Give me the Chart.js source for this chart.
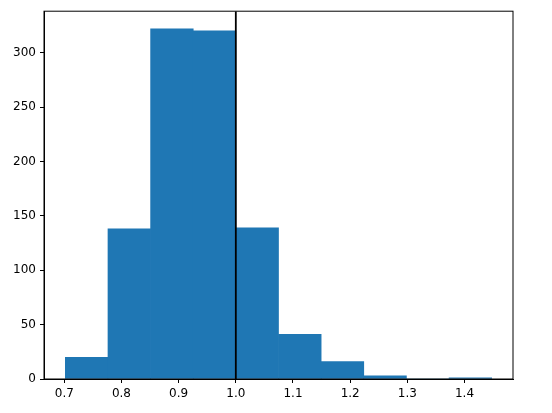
<!DOCTYPE html>
<html>
<head>
<meta charset="utf-8">
<script src="https://cdn.jsdelivr.net/npm/chart.js@4/dist/chart.umd.min.js"></script>
<style>
    body { margin: 0; background: #fff; }
</style>
</head>
<body>
<canvas id="hist" width="552" height="413"></canvas>
<script>
// Histogram bins (edges) and counts
const binEdges = [0.7018, 0.7764, 0.8510, 0.9255, 1.0001, 1.0747, 1.1492, 1.2238, 1.2984, 1.3730, 1.4475];
const counts = [20, 138, 322, 320, 139, 41, 16, 3, 0, 1];
const refLineX = 1.0;
const xTicks = [0.7, 0.8, 0.9, 1.0, 1.1, 1.2, 1.3, 1.4];
const yTicks = [0, 50, 100, 150, 200, 250, 300];

// Axis limits like matplotlib's 5% margin
const span = binEdges[binEdges.length - 1] - binEdges[0];
const xMin = binEdges[0] - span * 0.05;
const xMax = binEdges[binEdges.length - 1] + span * 0.05;
const yMax = Math.max(...counts) * 1.05;

const barData = counts.map((c, i) => ({ x: (binEdges[i] + binEdges[i + 1]) / 2, y: c }));

// Draw the full box around the plot area
const frame = {
    id: 'frame',
    afterDraw(chart) {
        const { ctx, chartArea: a } = chart;
        ctx.save();
        ctx.strokeStyle = '#000';
        ctx.lineWidth = 1;
        ctx.strokeRect(a.left, a.top, a.right - a.left, a.bottom - a.top);
        ctx.restore();
    }
};

const font = { family: 'DejaVu Sans', size: 12 };

new Chart(document.getElementById('hist'), {
    type: 'bar',
    data: {
        datasets: [
            {
                type: 'line',
                data: [{ x: refLineX, y: 0 }, { x: refLineX, y: yMax }],
                borderColor: '#000',
                borderWidth: 1.8,
                pointRadius: 0,
                order: 0
            },
            {
                data: barData,
                backgroundColor: '#1f77b4',
                borderWidth: 0,
                barPercentage: 1,
                categoryPercentage: 1,
                order: 1
            }
        ]
    },
    options: {
        responsive: false,
        animation: false,
        layout: { padding: { left: 0, top: 10, right: 39, bottom: 0 } },
        plugins: { legend: { display: false }, tooltip: { enabled: false } },
        scales: {
            x: {
                type: 'linear',
                min: xMin,
                max: xMax,
                offset: false,
                grid: { display: true, drawOnChartArea: false, offset: false, tickLength: 4, tickColor: '#000' },
                border: { display: true, color: '#000', width: 1 },
                afterBuildTicks: s => { s.ticks = xTicks.map(v => ({ value: v })); },
                afterFit: s => { s.height = 34; },
                ticks: { font, color: '#000', padding: 4, maxRotation: 0, callback: v => v.toFixed(1) }
            },
            y: {
                min: 0,
                max: yMax,
                grid: { display: true, drawOnChartArea: false, tickLength: 4, tickColor: '#000' },
                border: { display: true, color: '#000', width: 1 },
                afterBuildTicks: s => { s.ticks = yTicks.map(v => ({ value: v })); },
                afterFit: s => { s.width = 44; },
                ticks: { font, color: '#000', padding: 4, callback: v => String(v) }
            }
        }
    },
    plugins: [frame]
});
</script>
</body>
</html>
